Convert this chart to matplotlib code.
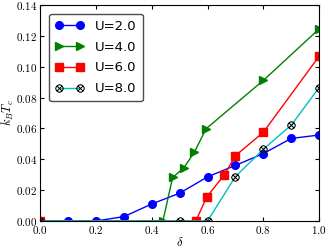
import matplotlib
matplotlib.use('Agg')
import matplotlib.pyplot as plt
from matplotlib.ticker import FuncFormatter

plt.rcParams['mathtext.fontset'] = 'cm'
plt.rcParams['xtick.direction'] = 'in'
plt.rcParams['ytick.direction'] = 'in'
plt.rcParams['xtick.top'] = True
plt.rcParams['ytick.right'] = True

# U=2.0
x2 = [0.0, 0.1, 0.2, 0.3, 0.4, 0.5, 0.6, 0.7, 0.8, 0.9, 1.0]
y2 = [0.0, 0.0, 0.0, 0.0028, 0.011, 0.018, 0.0286, 0.036, 0.0437, 0.0535, 0.0557]
# U=4.0
x4 = [0.0, 0.44, 0.475, 0.515, 0.553, 0.595, 0.8, 1.0]
y4 = [0.0, 0.0, 0.0282, 0.0344, 0.0447, 0.0598, 0.0911, 0.1245]
# U=6.0
x6 = [0.0, 0.558, 0.598, 0.66, 0.7, 0.8, 1.0]
y6 = [0.0, 0.0, 0.0158, 0.0298, 0.0423, 0.0575, 0.1068]
# U=8.0
x8 = [0.0, 0.5, 0.6, 0.7, 0.8, 0.9, 1.0]
y8 = [0.0, 0.0, 0.0, 0.0288, 0.0465, 0.0621, 0.0865]

fig = plt.figure(figsize=(3.26, 2.48), dpi=100)
ax = fig.add_axes([0.123, 0.109, 0.856, 0.871])

ax.plot(x2, y2, '-o', color='b', mec='b', ms=5.5, lw=1, label='U=2.0')
ax.plot(x4, y4, '->', color='g', mec='g', ms=5.5, lw=1, label='U=4.0')
ax.plot(x6, y6, '-s', color='r', mec='r', ms=5.5, lw=1, label='U=6.0')
ax.plot(x8, y8, '-', color='c', lw=1, marker=r'$\otimes$', mec='k', mfc='w',
        mew=0.4, ms=5.5, label='U=8.0')

ax.set_xlim(0, 1)
ax.set_ylim(0, 0.14)
ax.set_xticks([0.0, 0.2, 0.4, 0.6, 0.8, 1.0])
ax.set_yticks([0.0, 0.02, 0.04, 0.06, 0.08, 0.10, 0.12, 0.14])
ax.xaxis.set_major_formatter(FuncFormatter(lambda v, p: r'$%.1f$' % v))
ax.yaxis.set_major_formatter(FuncFormatter(lambda v, p: r'$%.2f$' % v))
ax.tick_params(labelsize=8, length=3, pad=2)
ax.set_xlabel(r'$\delta$', fontsize=9, labelpad=0)
ax.set_ylabel(r'$k_BT_c$', fontsize=9, labelpad=0)

leg = ax.legend(loc='upper left', numpoints=2, fontsize=9.5, fancybox=True,
                handlelength=2.2, borderpad=0.45, labelspacing=0.6,
                bbox_to_anchor=(0.01, 0.99))
leg.get_frame().set_edgecolor('0.3')
leg.get_frame().set_alpha(1)

fig.savefig('out.png', dpi=100)
